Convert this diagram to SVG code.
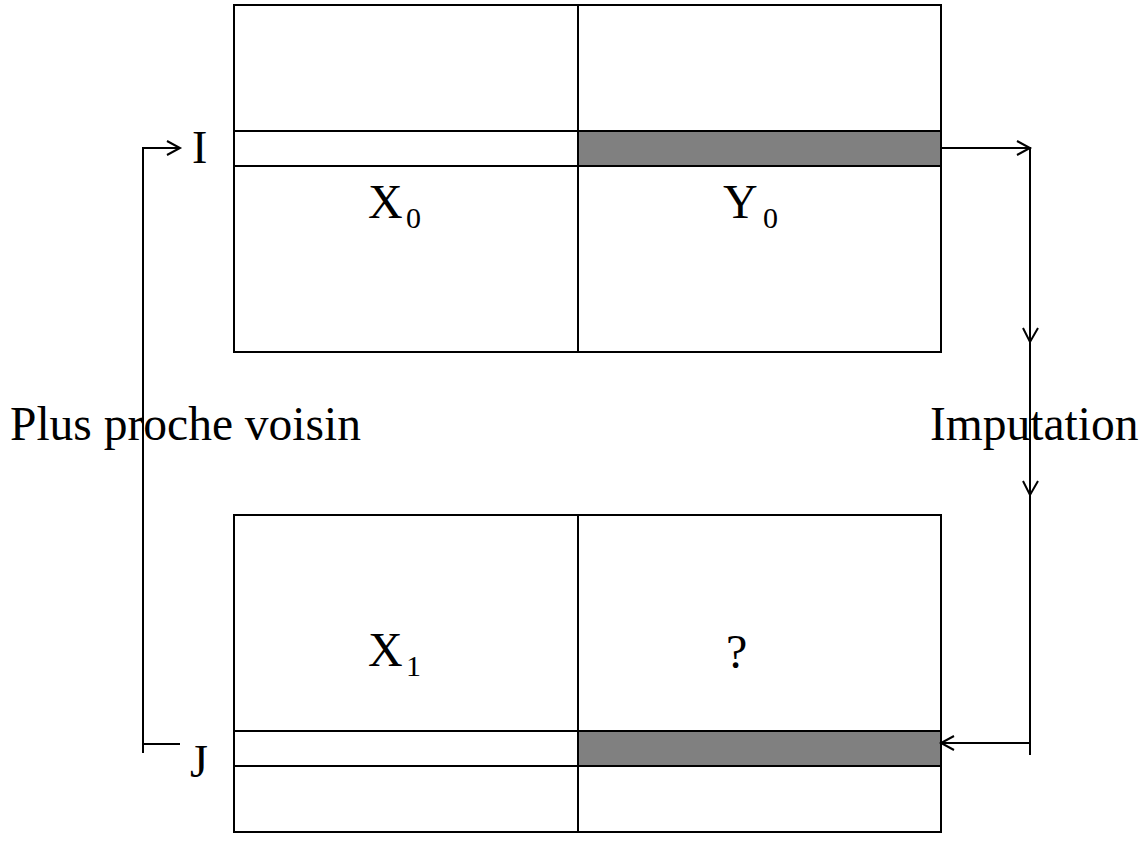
<svg xmlns="http://www.w3.org/2000/svg" width="1142" height="861" viewBox="0 0 1142 861">
<style>
.ln{fill:none;stroke:#000;stroke-width:2}
.gray{fill:#808080;stroke:#000;stroke-width:2}
.cell{fill:#fff;stroke:#000;stroke-width:2}
.t{font-family:"Liberation Serif","Times New Roman",serif;font-size:46px;fill:#000}
.x{font-family:"Liberation Serif","Times New Roman",serif;font-size:48px;fill:#000}
.s{font-family:"Liberation Serif","Times New Roman",serif;font-size:30px;fill:#000}
.lab{font-family:"Liberation Serif","Times New Roman",serif;font-size:47.5px;fill:#000}
</style>
<rect width="1142" height="861" fill="#fff"/>
<g id="table0">
<rect class="cell" x="234" y="5" width="707" height="347"/>
<line class="ln" x1="578" y1="5" x2="578" y2="352"/>
<rect class="cell" x="234" y="131" width="344" height="35"/>
<rect class="gray" x="578" y="131" width="363" height="35"/>
<text class="x" x="368" y="218">X</text><text class="s" x="406" y="228">0</text>
<text class="x" x="723" y="218">Y</text><text class="s" x="763" y="228">0</text>
</g>
<g id="table1">
<rect class="cell" x="234" y="515" width="707" height="317"/>
<line class="ln" x1="578" y1="515" x2="578" y2="832"/>
<rect class="cell" x="234" y="731" width="344" height="35"/>
<rect class="gray" x="578" y="731" width="363" height="35"/>
<text class="x" x="368" y="666">X</text><text class="s" x="406" y="676">1</text>
<text class="x" x="726" y="668">?</text>
</g>
<g id="labelI"><text class="t" x="192" y="163">I</text></g>
<g id="labelJ"><text class="t" x="190" y="777">J</text></g>
<g id="labelPPV"><text class="lab" x="10" y="440">Plus proche voisin</text></g>
<g id="labelImp"><text class="lab" x="930" y="440">Imputation</text></g>
<g id="connectors">
<polyline class="ln" points="143,753 143,148 180,148"/>
<line class="ln" x1="143" y1="744" x2="180" y2="744"/>
<polyline class="ln" points="167,141 180,148 167,155"/>
<polyline class="ln" points="941,148 1030,148 1030,755"/>
<polyline class="ln" points="1017,141 1030,148 1017,155"/>
<polyline class="ln" points="1023,328 1030,342 1038,328"/>
<polyline class="ln" points="1023,481 1030,495 1038,481"/>
<line class="ln" x1="1030" y1="743" x2="941" y2="743"/>
<polyline class="ln" points="954,736 941,743 954,750"/>
</g>
</svg>
